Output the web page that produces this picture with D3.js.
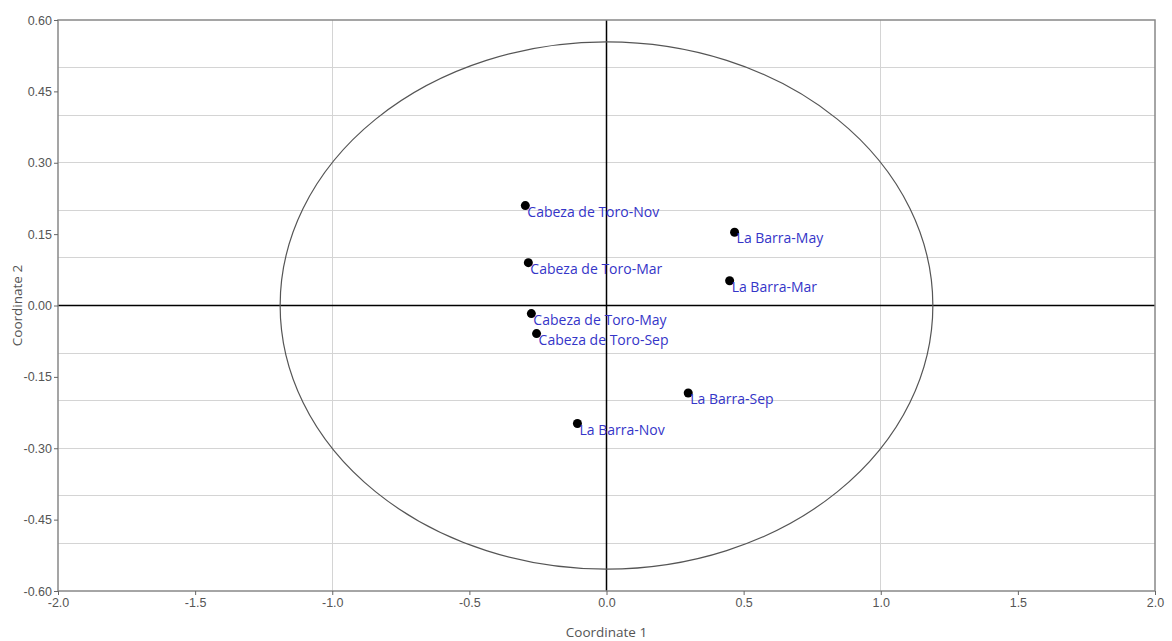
<!DOCTYPE html>
<meta charset="utf-8">
<style>

body {
  margin: 0;
  background: #fff;
}

svg {
  font: 13px "Open Sans", sans-serif;
}

.grid line {
  stroke: #d4d4d4;
  shape-rendering: crispEdges;
}

.axis path {
  display: none;
}

.axis line {
  stroke: #666;
}

.axis text {
  fill: #555;
  font-size: 12.5px;
}

.title {
  fill: #555;
  font-size: 13.5px;
}

.frame {
  fill: none;
  stroke: #888;
  stroke-width: 1.5;
}

.zero {
  stroke: #000;
  stroke-width: 1.5;
}

.point text {
  fill: #3535c8;
  font-size: 14px;
}
</style>
<body>
<script src="https://cdnjs.cloudflare.com/ajax/libs/d3/7.8.5/d3.min.js"></script>
<script>

var names = ["Cabeza de Toro-Nov", "Cabeza de Toro-Mar", "Cabeza de Toro-May", "Cabeza de Toro-Sep",
             "La Barra-May", "La Barra-Mar", "La Barra-Sep", "La Barra-Nov"];
var coord1 = [-0.296, -0.285, -0.274, -0.255, 0.467, 0.449, 0.298, -0.106];
var coord2 = [0.210, 0.090, -0.017, -0.059, 0.154, 0.052, -0.184, -0.248];

// 95% ellipse radii
var ellipseRx = 1.19,
    ellipseRy = 0.554;

var xTicks = [-2.0, -1.5, -1.0, -0.5, 0.0, 0.5, 1.0, 1.5, 2.0];
var yTicks = [-0.60, -0.45, -0.30, -0.15, 0.00, 0.15, 0.30, 0.45, 0.60];
var xGrid = [-1, 1];
var yGrid = [-0.5, -0.4, -0.3, -0.2, -0.1, 0.1, 0.2, 0.3, 0.4, 0.5];

var width = 1172,
    height = 641,
    margin = {top: 20, right: 17, bottom: 50, left: 58};

var x = d3.scaleLinear()
    .domain([-2, 2])
    .range([margin.left, width - margin.right]);

var y = d3.scaleLinear()
    .domain([-0.6, 0.6])
    .range([height - margin.bottom, margin.top]);

var svg = d3.select("body").append("svg")
    .attr("width", width)
    .attr("height", height);

var grid = svg.append("g").attr("class", "grid");

grid.selectAll(".h")
    .data(yGrid)
  .enter().append("line")
    .attr("x1", x(-2))
    .attr("x2", x(2))
    .attr("y1", function(d) { return y(d); })
    .attr("y2", function(d) { return y(d); });

grid.selectAll(".v")
    .data(xGrid)
  .enter().append("line")
    .attr("x1", function(d) { return x(d); })
    .attr("x2", function(d) { return x(d); })
    .attr("y1", y(0.6))
    .attr("y2", y(-0.6));

svg.append("line")
    .attr("class", "zero")
    .attr("x1", x(-2)).attr("x2", x(2))
    .attr("y1", y(0)).attr("y2", y(0));

svg.append("line")
    .attr("class", "zero")
    .attr("x1", x(0)).attr("x2", x(0))
    .attr("y1", y(0.6)).attr("y2", y(-0.6));

svg.append("ellipse")
    .attr("cx", x(0))
    .attr("cy", y(0))
    .attr("rx", x(ellipseRx) - x(0))
    .attr("ry", y(0) - y(ellipseRy))
    .style("fill", "none")
    .style("stroke", "#555")
    .style("stroke-width", 1.2);

svg.append("rect")
    .attr("class", "frame")
    .attr("x", x(-2))
    .attr("y", y(0.6))
    .attr("width", x(2) - x(-2))
    .attr("height", y(-0.6) - y(0.6));

svg.append("g")
    .attr("class", "axis")
    .attr("transform", "translate(0," + y(-0.6) + ")")
    .call(d3.axisBottom(x).tickValues(xTicks).tickSize(4).tickPadding(3)
      .tickFormat(function(d) { return d.toFixed(1); }));

svg.append("g")
    .attr("class", "axis")
    .attr("transform", "translate(" + x(-2) + ",0)")
    .call(d3.axisLeft(y).tickValues(yTicks).tickSize(4).tickPadding(2)
      .tickFormat(function(d) { return d.toFixed(2); }));

svg.append("text")
    .attr("class", "title")
    .attr("x", x(0))
    .attr("y", height - 4)
    .attr("text-anchor", "middle")
    .text("Coordinate 1");

svg.append("text")
    .attr("class", "title")
    .attr("transform", "translate(22," + y(0) + ") rotate(-90)")
    .attr("text-anchor", "middle")
    .text("Coordinate 2");

var point = svg.selectAll(".point")
    .data(names)
  .enter().append("g")
    .attr("class", "point")
    .attr("transform", function(d, i) { return "translate(" + x(coord1[i]) + "," + y(coord2[i]) + ")"; });

point.append("circle")
    .attr("r", 4.5)
    .style("fill", "#000");

point.append("text")
    .attr("x", 2)
    .attr("y", 11)
    .text(function(d) { return d; });

</script>
